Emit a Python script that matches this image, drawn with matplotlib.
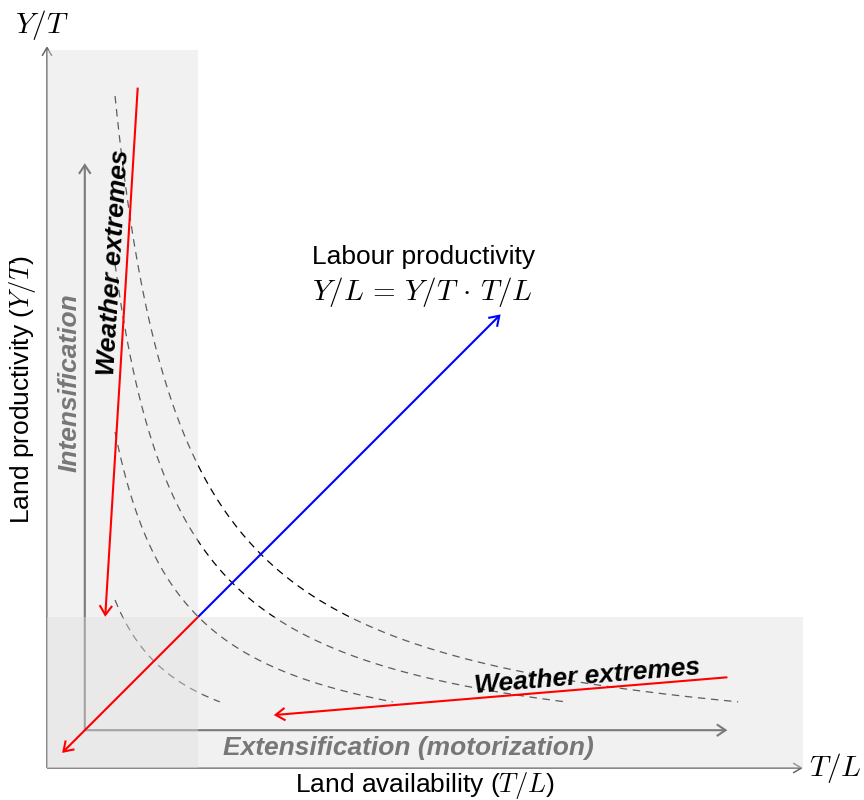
import numpy as np
import matplotlib
matplotlib.use("Agg")
import matplotlib.pyplot as plt
from matplotlib.patches import FancyArrowPatch, Rectangle

plt.rcParams['font.family'] = ['Liberation Sans', 'DejaVu Sans']
plt.rcParams['mathtext.fontset'] = 'cm'

# ---- data (diagram units) ----
axis_end_x = 10.0
axis_end_y = 9.55
band_width = 2.0
band_top = 9.5
iso_levels = [2, 4, 6, 8]
iso_x_start = 0.9
iso_y_end = 0.875
intens_arrow = [(0.5, 0.5), (0.5, 8.0)]
extens_arrow = [(0.5, 0.5), (9.0, 0.5)]
weather_v = [(1.2, 9.0), (0.77, 2.0)]
weather_h = [(9.0, 1.2), (3.0, 0.7)]
labour_blue = [(2.0, 2.0), (6.0, 6.0)]
labour_red = [(2.0, 2.0), (0.2, 0.2)]

PX = 75.6  # pixels per unit
fig = plt.figure(figsize=(8.64, 8.0), dpi=100)
ax = fig.add_axes([0, 0, 1, 1])
ax.set_xlim(-47 / PX, (864 - 47) / PX)
ax.set_ylim(-(800 - 768) / PX, 768 / PX)
ax.axis('off')


def arrow(p0, p1, color, lw, ms, z, hl=0.45, hw=0.3):
    a = FancyArrowPatch(p0, p1, arrowstyle=f'->,head_length={hl},head_width={hw}',
                        mutation_scale=ms, color=color, lw=lw, zorder=z,
                        shrinkA=0, shrinkB=0, capstyle='butt', joinstyle='miter')
    ax.add_patch(a)


# isoquant curves (drawn under shading)
for c in iso_levels:
    xs = np.linspace(iso_x_start, c / iso_y_end, 300)
    ax.plot(xs, c / xs, color='black', lw=0.9, ls=(0, (6, 4.5)), zorder=1)

# axes
arrow((0, 0), (axis_end_x, 0), '#666666', 1.1, 10, 1, hl=0.6, hw=0.35)
arrow((0, 0), (0, axis_end_y), '#666666', 1.1, 10, 1, hl=0.6, hw=0.35)

# intensification / extensification arrows
arrow(*intens_arrow, '#333333', 1.5, 14, 1)
arrow(*extens_arrow, '#333333', 1.5, 14, 1)

# shaded bands
ax.add_patch(Rectangle((0, 0), band_width, band_top, facecolor='#dedede',
                       alpha=0.42, lw=0, zorder=2))
ax.add_patch(Rectangle((0, 0), axis_end_x, band_width, facecolor='#dedede',
                       alpha=0.42, lw=0, zorder=2))

# labour productivity arrows
arrow(*labour_blue, 'blue', 1.5, 15, 3)
arrow(*labour_red, 'red', 1.5, 15, 3)

# weather extremes arrows
arrow(*weather_v, 'red', 1.5, 15, 3)
arrow(*weather_h, 'red', 1.5, 15, 3)

FS = 19
FM = 21
ang_v = np.degrees(np.arctan2(weather_v[0][1] - weather_v[1][1], weather_v[0][0] - weather_v[1][0]))
ang_h = np.degrees(np.arctan2(weather_h[0][1] - weather_h[1][1], weather_h[0][0] - weather_h[1][0]))

ax.text(0.886, 6.69, 'Weather extremes', rotation=ang_v, ha='center', va='center',
        fontsize=FS, fontweight='bold', fontstyle='italic', color='black', zorder=4)
ax.text(7.14, 1.21, 'Weather extremes', rotation=ang_h, ha='center', va='center',
        fontsize=FS, fontweight='bold', fontstyle='italic', color='black', zorder=4)
ax.text(0.3, 5.1, 'Intensification', rotation=90, ha='center', va='center',
        fontsize=FS, fontweight='bold', fontstyle='italic', color='#777777', zorder=4)
ax.text(4.78, 0.26, 'Extensification (motorization)', ha='center', va='center',
        fontsize=FS, fontweight='bold', fontstyle='italic', color='#777777', zorder=4)

ax.text(3.5, 6.76, 'Labour productivity', ha='left', va='center', fontsize=FS, zorder=4)
ax.text(3.5, 6.3, r'$Y/L\,=\,Y/T\,\cdot\,T/L$', ha='left', va='center', fontsize=FM, zorder=4)

ax.text(-0.07, 9.83, r'$Y/T$', ha='center', va='center', fontsize=FM)
ax.text(10.42, 0.0, r'$T/L$', ha='center', va='center', fontsize=FM)
ax.text(5.0, -0.235, r'Land availability ($T/L$)', ha='center', va='center', fontsize=FS)
ax.text(-0.33, 5.0, r'Land productivity ($Y/T$)', rotation=90, ha='center', va='center', fontsize=FS)

fig.savefig('out.png', dpi=100)
